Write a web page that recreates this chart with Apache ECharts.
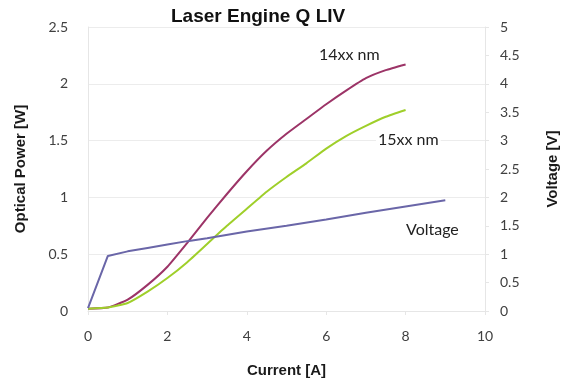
<!DOCTYPE html>
<html>
<head>
<meta charset="utf-8">
<script src="https://cdn.jsdelivr.net/npm/echarts@6/dist/echarts.min.js"></script>
<style>html,body{margin:0;padding:0;background:#fff}#c{width:568px;height:385px}</style>
</head>
<body>
<div id="c"></div>
<script>
var currentP = [0, 0.5, 1, 1.5, 2, 2.5, 3, 3.5, 4, 4.5, 5, 5.5, 6, 6.5, 7, 7.5, 8];
var power14 = [0.02, 0.03, 0.10, 0.23, 0.39, 0.60, 0.82, 1.03, 1.23, 1.41, 1.56, 1.69, 1.82, 1.94, 2.05, 2.12, 2.17];
var power15 = [0.02, 0.03, 0.07, 0.17, 0.29, 0.43, 0.59, 0.75, 0.90, 1.05, 1.18, 1.30, 1.43, 1.54, 1.63, 1.71, 1.77];
var currentV = [0, 0.5, 1, 1.5, 2, 2.5, 3, 4, 5, 6, 7, 8, 9];
var voltage = [0.05, 0.97, 1.05, 1.11, 1.17, 1.23, 1.28, 1.40, 1.50, 1.61, 1.73, 1.84, 1.95];
var xTicks = [0, 2, 4, 6, 8, 10];

function pairs(xs, ys) { return xs.map(function (x, i) { return [x, ys[i]]; }); }

var chart = echarts.init(document.getElementById('c'), null, {renderer: 'canvas'});
var tickFont = {color: '#404040', fontSize: 14, fontFamily: 'Lato'};
var nameFont = {color: '#1a1a1a', fontSize: 15, fontWeight: 'bold', fontFamily: 'Liberation Sans'};
var labelStyle = {fontSize: 16, fontFamily: 'Lato', fill: '#222', backgroundColor: '#ffffff', padding: [1, 2]};
chart.setOption({
  animation: false,
  title: {text: 'Laser Engine Q LIV', left: 166, top: 2,
    textStyle: {fontSize: 19, fontWeight: 'bold', color: '#111', fontFamily: 'Liberation Sans'}},
  grid: {left: 88, right: 80, top: 27, bottom: 74},
  xAxis: {type: 'value', min: 0, max: 10, interval: 2,
    name: 'Current [A]', nameLocation: 'middle', nameGap: 52, nameTextStyle: nameFont,
    axisLine: {show: true, lineStyle: {color: '#e6e6e6'}},
    axisTick: {show: true, length: 4, lineStyle: {color: '#e6e6e6'}},
    splitLine: {show: false},
    axisLabel: Object.assign({margin: 18, formatter: function (v) { return xTicks.indexOf(v) >= 0 ? String(v) : ''; }}, tickFont)},
  yAxis: [
    {type: 'value', min: 0, max: 2.5, interval: 0.5,
      name: 'Optical Power [W]', nameLocation: 'middle', nameGap: 60, nameRotate: 90, nameTextStyle: nameFont,
      axisLine: {show: true, lineStyle: {color: '#e6e6e6'}}, axisTick: {show: false},
      splitLine: {show: true, lineStyle: {color: '#ececec'}},
      axisLabel: Object.assign({margin: 20}, tickFont)},
    {type: 'value', min: 0, max: 5, interval: 0.5, position: 'right',
      name: 'Voltage [V]', nameLocation: 'middle', nameGap: 60, nameRotate: 90, nameTextStyle: nameFont,
      axisLine: {show: true, lineStyle: {color: '#e6e6e6'}}, axisTick: {show: true, length: 4, lineStyle: {color: '#e6e6e6'}},
      splitLine: {show: false},
      axisLabel: Object.assign({margin: 15}, tickFont)}
  ],
  series: [
    {name: '14xx nm', type: 'line', data: pairs(currentP, power14), showSymbol: false, smooth: 0.15,
      lineStyle: {color: '#9c3467', width: 2}, itemStyle: {color: '#9c3467'}},
    {name: '15xx nm', type: 'line', data: pairs(currentP, power15), showSymbol: false, smooth: 0.15,
      lineStyle: {color: '#9fcf2a', width: 2}, itemStyle: {color: '#9fcf2a'}},
    {name: 'Voltage', type: 'line', yAxisIndex: 1, data: pairs(currentV, voltage), showSymbol: false,
      lineStyle: {color: '#6a66a8', width: 2}, itemStyle: {color: '#6a66a8'}}
  ],
  graphic: [
    {type: 'text', z: 100, left: 317, top: 46, style: Object.assign({text: '14xx nm'}, labelStyle)},
    {type: 'text', z: 100, left: 376, top: 131, style: Object.assign({text: '15xx nm'}, labelStyle)},
    {type: 'text', z: 100, left: 404, top: 221, style: Object.assign({text: 'Voltage'}, labelStyle)}
  ]
});
</script>
</body>
</html>
